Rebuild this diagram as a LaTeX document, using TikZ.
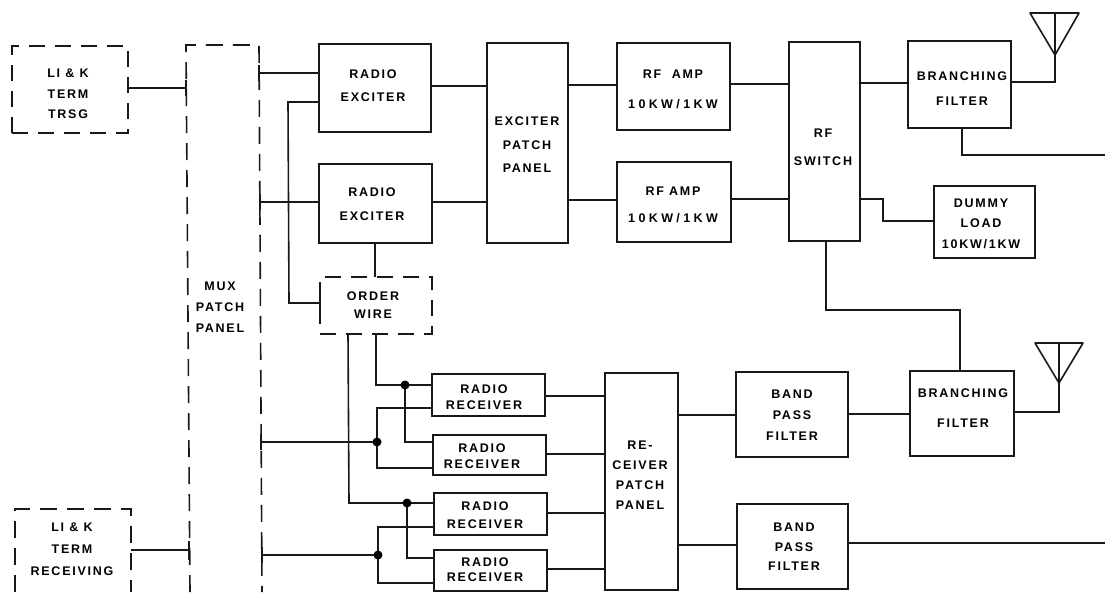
\documentclass[tikz,border=0pt]{standalone}
\usepackage{fontspec}
\setmainfont{Liberation Sans}
\newcommand{\wideltr}[1]{{\addfontfeatures{LetterSpace=27}#1}}
\tikzset{
 every node/.style={inner sep=0pt,outer sep=0pt},
 lab/.style={align=center,font=\fontsize{12.5}{#1}\selectfont\bfseries\addfontfeatures{LetterSpace=14}},
 wire/.style={line width=1.6pt,black!90},
 solidbox/.style={draw,line width=1.6pt,black!90},
 dashbox/.style={draw,line width=1.6pt,black!90,dash pattern=on 16pt off 10pt},
 dashline/.style={line width=1.6pt,black!90,dash pattern=on 17pt off 10pt},
 dot/.style={circle,fill=black,minimum size=9pt},
}
\newcommand{\bx}[6]{\node[#1,anchor=north west,minimum width=(#5-#3)*1pt,minimum height=(#6-#4)*1pt] (#2) at (#3,#4) {};}
\begin{document}
\begin{tikzpicture}[x=1pt,y=-1pt]
\useasboundingbox (0,0) rectangle (1105,592);
% boxes
\bx{dashbox}{trsg}{12}{46}{128}{133}
\bx{}{mux}{186}{45}{259}{592}
\bx{}{trcv}{15}{509}{131}{592}
\bx{solidbox}{ex1}{319}{44}{431}{132}
\bx{solidbox}{ex2}{319}{164}{432}{243}
\bx{dashbox}{ow}{320}{277}{432}{334}
\bx{solidbox}{epp}{487}{43}{568}{243}
\bx{solidbox}{amp1}{617}{43}{730}{130}
\bx{solidbox}{amp2}{617}{162}{731}{242}
\bx{solidbox}{sw}{789}{42}{860}{241}
\bx{solidbox}{bf1}{908}{41}{1011}{128}
\bx{solidbox}{dl}{934}{186}{1035}{258}
\bx{solidbox}{bf2}{910}{371}{1014}{456}
\bx{solidbox}{bp1}{736}{372}{848}{457}
\bx{solidbox}{bp2}{737}{504}{848}{589}
\bx{solidbox}{r1}{432}{374}{545}{416}
\bx{solidbox}{r2}{433}{435}{546}{475}
\bx{solidbox}{r3}{434}{493}{547}{535}
\bx{solidbox}{r4}{434}{550}{547}{591}
\bx{solidbox}{rpp}{605}{373}{678}{590}
\draw[dashline] (190,592) -- (mux.north west) -- (mux.north east) -- (262,592);
\draw[dashline] (trcv.south west) -- (trcv.north west) -- (trcv.north east) -- (trcv.south east);
% labels
\node[lab=20.5] (t1) at (68,94) {LI \& K\\TERM\\TRSG};
\node[lab=21] (t2) at (220,307) {MUX\\PATCH\\PANEL};
\node[lab=22] (t3) at (72,549) {LI \& K\\TERM\\RECEIVING};
\node[lab=23] (t4) at (373,85.5) {RADIO\\EXCITER};
\node[lab=24] (t5) at (372,204) {RADIO\\EXCITER};
\node[lab=18] (t6) at (373,305) {ORDER\\WIRE};
\node[lab=23.5] (t7) at (527,145) {EXCITER\\PATCH\\PANEL};
\node[lab=30] (t8) at (673,89) {RF\ \ AMP\\\wideltr{10KW/1KW}};
\node[lab=27] (t9) at (673,204.5) {RF AMP\\\wideltr{10KW/1KW}};
\node[lab=28] (t10) at (823,147) {RF\\SWITCH};
\node[lab=25] (t11) at (962,88.5) {BRANCHING\\FILTER};
\node[lab=20.5] (t12) at (981,223.5) {DUMMY\\LOAD\\10KW/1KW};
\node[lab=30] (t13) at (963,408) {BRANCHING\\FILTER};
\node[lab=21] (t14) at (792,415) {BAND\\PASS\\FILTER};
\node[lab=19.5] (t15) at (794,547) {BAND\\PASS\\FILTER};
\node[lab=20] (t16) at (640,475) {RE-\\CEIVER\\PATCH\\PANEL};
\node[lab=16] (t17) at (484,397) {RADIO\\RECEIVER};
\node[lab=16] (t18) at (482,456) {RADIO\\RECEIVER};
\node[lab=18] (t19) at (485,515) {RADIO\\RECEIVER};
\node[lab=15] (t20) at (485,569.5) {RADIO\\RECEIVER};
% antennas
\coordinate (ant1) at (1055,13);
\coordinate (ant2) at (1059,343);
\draw[wire,line join=round] (1030,13) -- (1079,13) -- (1055,55) -- cycle;
\draw[wire] (ant1) -- (1055,82) -- (bf1.east |- 0,82);
\draw[wire,line join=round] (1035,343) -- (1083,343) -- (1059,383) -- cycle;
\draw[wire] (ant2) -- (1059,412) -- (bf2.east |- 0,412);
% connectors
\coordinate (edgeA) at (1105,155);
\coordinate (edgeB) at (1105,543);
\draw[wire] (trsg.east |- 0,88) -- (mux.west |- 0,88);
\draw[wire] (mux.west |- 0,80) -- ++(0,16);
\draw[wire] (trcv.east |- 0,550) -- ([xshift=3pt]mux.west |- 0,550);
\draw[wire] ([xshift=3pt]mux.west |- 0,541) -- ++(0,19);
\draw[wire] (mux.east |- 0,73) -- (ex1.west |- 0,73);
\draw[wire] (mux.east |- 0,65) -- ++(0,16);
\draw[wire] ([xshift=1pt]mux.east |- 0,202) -- (ex2.west |- 0,202);
\draw[wire] ([xshift=1pt]mux.east |- 0,194) -- ++(0,16);
\draw[wire] (ex1.west |- 0,102) -- (288,102) -- (289,303) -- (ow.west |- 0,303);
\draw[wire] (ow.west |- 0,296) -- ++(0,14);
\draw[wire] (ex2.south -| 375,0) -- (ow.north -| 375,0);
\draw[wire] (ex1.east |- 0,86) -- (epp.west |- 0,86);
\draw[wire] (ex2.east |- 0,202) -- (epp.west |- 0,202);
\draw[wire] (epp.east |- 0,85) -- (amp1.west |- 0,85);
\draw[wire] (epp.east |- 0,200) -- (amp2.west |- 0,200);
\draw[wire] (amp1.east |- 0,84) -- (sw.west |- 0,84);
\draw[wire] (amp2.east |- 0,199) -- (sw.west |- 0,199);
\draw[wire] (sw.east |- 0,83) -- (bf1.west |- 0,83);
\draw[wire] (sw.east |- 0,199) -- (883,199) -- (883,221) -- (dl.west |- 0,221);
\draw[wire] (bf1.south -| 962,0) -- (962,155) -- (edgeA);
\draw[wire] (sw.south -| 826,0) -- (826,310) -- (960,310) -- (bf2.north -| 960,0);
\draw[wire] (ow.south -| 348,0) -- (349,503) -- (r3.west |- 0,503);
\draw[wire] (ow.south -| 376,0) -- (376,385) -- (r1.west |- 0,385);
\draw[wire] ([xshift=2pt]mux.east |- 0,442) -- (377,442);
\draw[wire] ([xshift=2pt]mux.east |- 0,434) -- ++(0,16);
\draw[wire] ([xshift=3pt]mux.east |- 0,555) -- (378,555);
\draw[wire] ([xshift=3pt]mux.east |- 0,547) -- ++(0,16);
\draw[wire] (r1.west |- 0,408) -- (377,408) -- (377,468) -- (r2.west |- 0,468);
\draw[wire] (405,385) -- (405,442) -- (r2.west |- 0,442);
\draw[wire] (r3.west |- 0,527) -- (378,527) -- (378,583) -- (r4.west |- 0,583);
\draw[wire] (407,503) -- (407,558) -- (r4.west |- 0,558);
\node[dot] (d1) at (405,385) {};
\node[dot] (d2) at (377,442) {};
\node[dot] (d3) at (407,503) {};
\node[dot] (d4) at (378,555) {};
\draw[wire] (r1.east |- 0,396) -- (rpp.west |- 0,396);
\draw[wire] (r2.east |- 0,454) -- (rpp.west |- 0,454);
\draw[wire] (r3.east |- 0,513) -- (rpp.west |- 0,513);
\draw[wire] (r4.east |- 0,569) -- (rpp.west |- 0,569);
\draw[wire] (rpp.east |- 0,415) -- (bp1.west |- 0,415);
\draw[wire] (rpp.east |- 0,545) -- (bp2.west |- 0,545);
\draw[wire] (bp1.east |- 0,414) -- (bf2.west |- 0,414);
\draw[wire] (bp2.east |- 0,543) -- (edgeB);
\end{tikzpicture}
\end{document}
